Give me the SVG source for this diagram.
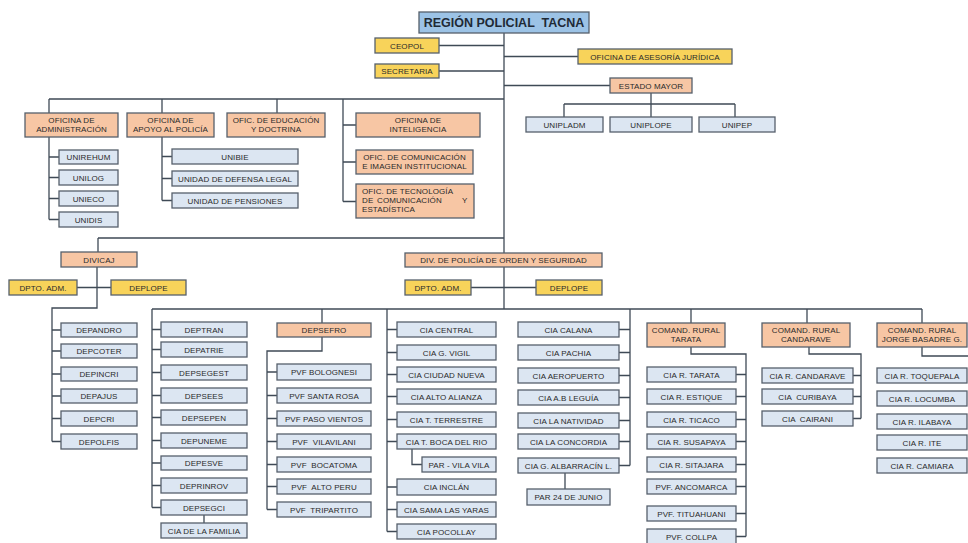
<svg xmlns="http://www.w3.org/2000/svg" width="968" height="543" viewBox="0 0 968 543">
<style>
.t,.y,.o,.b{stroke:#56606c;stroke-width:1.3}
.t{fill:#9cc3e6}
.y{fill:#f8d35a}
.o{fill:#f7c6a4}
.b{fill:#dce6f2}
text{font-family:"Liberation Sans",Arial,sans-serif;font-size:8px;fill:#2a2a2a;text-anchor:middle;letter-spacing:0.1px}
.tt{font-size:12.5px;font-weight:bold;fill:#1f2a36;letter-spacing:0}
.l{text-anchor:start}
#connectors path{fill:none;stroke:#3f4a56;stroke-width:1.3}
</style>
<rect x="0" y="0" width="968" height="543" fill="#ffffff"/>
<g id="connectors">
<path d="M504 33V309"/>
<path d="M439 45.5H504M439 71H504M504 56.5H578M504 85.5H610"/>
<path d="M651 93V104M564 104H735M564 104V117M651 104V117M735 104V117"/>
<path d="M49 99H504M49 99V113M162 99V113M277 99V113M343 99V201.5M343 125H356M343 162H356M343 201.5H356"/>
<path d="M49 137V219.5M49 157H59M49 177.5H59M49 198.5H59M49 219.5H59"/>
<path d="M162 137V200.5M162 156.5H172M162 178.5H172M162 200.5H172"/>
<path d="M98 238H504M98 238V252"/>
<path d="M97 267V308H52V441.5M77 287.5H111"/>
<path d="M52 330H61M52 351H61M52 374H61M52 396H61M52 418.5H61M52 441.5H61"/>
<path d="M471 287.5H536"/>
<path d="M152 309H922"/>
<path d="M152 309V507.5M152 329.5H161M152 349.5H161M152 372.5H161M152 395.5H161M152 417.5H161M152 440.5H161M152 463H161M152 485.5H161M152 507.5H161M204 515V523"/>
<path d="M322 309V323M322 337V351H267V509.5M267 372H277M267 395.5H277M267 418.5H277M267 441.5H277M267 464.5H277M267 486.5H277M267 509.5H277"/>
<path d="M387 309V531.5M387 329.5H397M387 352.5H397M387 374.5H397M387 396.5H397M387 419.5H397M387 441.5H397M387 487H397M387 509.5H397M387 531.5H397M412 449V464.5H422"/>
<path d="M630 309V465.5M619 329.5H630M619 352.5H630M619 375.5H630M619 397.5H630M619 420.5H630M619 441.5H630M619 465.5H630M565 473V489"/>
<path d="M691 309V323M691 347V354H746V536.5M736 374.5H746M736 396.5H746M736 419.5H746M736 441.5H746M736 464.5H746M736 486.5H746M736 513.5H746M736 536.5H746"/>
<path d="M807 309V323M809 347V354H861V418.5M853 375.5H861M853 396.5H861M853 418.5H861"/>
<path d="M922 309V323M922 347V356H968"/>
</g>

<g id="region"><rect class="t" x="419" y="12" width="170" height="21"/><text class="tt" x="504" y="27" xml:space="preserve">REGIÓN POLICIAL  TACNA</text></g>
<g id="ceopol"><rect class="y" x="375" y="38" width="64" height="15"/><text x="407" y="48.5">CEOPOL</text></g>
<g id="secretaria"><rect class="y" x="375" y="64" width="64" height="14"/><text x="407" y="74">SECRETARIA</text></g>
<g id="asesoria"><rect class="y" x="578" y="49" width="154" height="15"/><text x="655" y="59.5">OFICINA DE ASESORÍA JURÍDICA</text></g>
<g id="estado-mayor"><rect class="o" x="610" y="78" width="82" height="15"/><text x="651" y="88.5">ESTADO MAYOR</text></g>
<g id="unipladm"><rect class="b" x="526" y="117" width="77" height="15"/><text x="564.5" y="127.5">UNIPLADM</text></g>
<g id="uniplope"><rect class="b" x="610" y="117" width="82" height="15"/><text x="651" y="127.5">UNIPLOPE</text></g>
<g id="unipep"><rect class="b" x="699" y="117" width="76" height="15"/><text x="737" y="127.5">UNIPEP</text></g>

<g id="of-admin"><rect class="o" x="25" y="113" width="93" height="24"/><text x="71.5" y="123">OFICINA DE</text><text x="71.5" y="132">ADMINISTRACIÓN</text></g>
<g id="of-apoyo"><rect class="o" x="127" y="113" width="87" height="24"/><text x="170.5" y="123">OFICINA DE</text><text x="170.5" y="132">APOYO AL POLICÍA</text></g>
<g id="of-educacion"><rect class="o" x="227" y="113" width="98" height="24"/><text x="276" y="123">OFIC. DE EDUCACIÓN</text><text x="276" y="132">Y DOCTRINA</text></g>
<g id="of-inteligencia"><rect class="o" x="356" y="113" width="124" height="24"/><text x="418" y="123">OFICINA DE</text><text x="418" y="132">INTELIGENCIA</text></g>
<g id="of-comunicacion"><rect class="o" x="356" y="150" width="117" height="24"/><text x="414.5" y="160">OFIC. DE COMUNICACIÓN</text><text x="414.5" y="169">E IMAGEN INSTITUCIONAL</text></g>
<g id="of-tecnologia"><rect class="o" x="356" y="184" width="118" height="34"/><text class="l" x="362" y="194">OFIC. DE TECNOLOGÍA</text><text class="l" x="362" y="203">DE</text><text class="l" x="377" y="203">COMUNICACIÓN</text><text class="l" x="462" y="203">Y</text><text class="l" x="362" y="212">ESTADÍSTICA</text></g>

<g id="unirehum"><rect class="b" x="59" y="150" width="59" height="14"/><text x="88.5" y="160">UNIREHUM</text></g>
<g id="unilog"><rect class="b" x="59" y="170" width="59" height="15"/><text x="88.5" y="180.5">UNILOG</text></g>
<g id="unieco"><rect class="b" x="59" y="191" width="59" height="15"/><text x="88.5" y="201.5">UNIECO</text></g>
<g id="unidis"><rect class="b" x="59" y="212" width="59" height="15"/><text x="88.5" y="222.5">UNIDIS</text></g>
<g id="unibie"><rect class="b" x="172" y="149" width="126" height="15"/><text x="235" y="159.5">UNIBIE</text></g>
<g id="defensa-legal"><rect class="b" x="172" y="171" width="126" height="15"/><text x="235" y="181.5">UNIDAD DE DEFENSA LEGAL</text></g>
<g id="pensiones"><rect class="b" x="172" y="193" width="126" height="15"/><text x="235" y="203.5">UNIDAD DE PENSIONES</text></g>

<g id="divicaj"><rect class="o" x="61" y="252" width="76" height="15"/><text x="99" y="262.5">DIVICAJ</text></g>
<g id="dpto-adm-1"><rect class="y" x="9" y="280" width="68" height="15"/><text x="43" y="290.5">DPTO. ADM.</text></g>
<g id="deplope-1"><rect class="y" x="111" y="280" width="75" height="15"/><text x="148.5" y="290.5">DEPLOPE</text></g>
<g id="depandro"><rect class="b" x="61" y="323" width="76" height="14"/><text x="99" y="333">DEPANDRO</text></g>
<g id="depcoter"><rect class="b" x="61" y="344" width="76" height="14"/><text x="99" y="354">DEPCOTER</text></g>
<g id="depincri"><rect class="b" x="61" y="367" width="76" height="14"/><text x="99" y="377">DEPINCRI</text></g>
<g id="depajus"><rect class="b" x="61" y="389" width="76" height="14"/><text x="99" y="399">DEPAJUS</text></g>
<g id="depcri"><rect class="b" x="61" y="411" width="76" height="15"/><text x="99" y="421.5">DEPCRI</text></g>
<g id="depolfis"><rect class="b" x="61" y="434" width="76" height="15"/><text x="99" y="444.5">DEPOLFIS</text></g>

<g id="div-orden"><rect class="o" x="405" y="253" width="197" height="14"/><text x="503.5" y="263">DIV. DE POLICÍA DE ORDEN Y SEGURIDAD</text></g>
<g id="dpto-adm-2"><rect class="y" x="405" y="280" width="66" height="15"/><text x="438" y="290.5">DPTO. ADM.</text></g>
<g id="deplope-2"><rect class="y" x="536" y="280" width="66" height="15"/><text x="569" y="290.5">DEPLOPE</text></g>

<g id="deptran"><rect class="b" x="161" y="322" width="86" height="15"/><text x="204" y="332.5">DEPTRAN</text></g>
<g id="depatrie"><rect class="b" x="161" y="342" width="86" height="15"/><text x="204" y="352.5">DEPATRIE</text></g>
<g id="depsegest"><rect class="b" x="161" y="365" width="86" height="15"/><text x="204" y="375.5">DEPSEGEST</text></g>
<g id="depsees"><rect class="b" x="161" y="388" width="86" height="15"/><text x="204" y="398.5">DEPSEES</text></g>
<g id="depsepen"><rect class="b" x="161" y="410" width="86" height="15"/><text x="204" y="420.5">DEPSEPEN</text></g>
<g id="depuneme"><rect class="b" x="161" y="433" width="86" height="15"/><text x="204" y="443.5">DEPUNEME</text></g>
<g id="depesve"><rect class="b" x="161" y="456" width="86" height="14"/><text x="204" y="466">DEPESVE</text></g>
<g id="deprinrov"><rect class="b" x="161" y="478" width="86" height="15"/><text x="204" y="488.5">DEPRINROV</text></g>
<g id="depsegci"><rect class="b" x="161" y="500" width="86" height="15"/><text x="204" y="510.5">DEPSEGCI</text></g>
<g id="cia-familia"><rect class="b" x="161" y="523" width="86" height="15"/><text x="204" y="533.5">CIA DE LA FAMILIA</text></g>

<g id="depsefro"><rect class="o" x="277" y="323" width="94" height="14"/><text x="324" y="333">DEPSEFRO</text></g>
<g id="pvf-bolognesi"><rect class="b" x="277" y="364" width="94" height="16"/><text x="324" y="375">PVF BOLOGNESI</text></g>
<g id="pvf-santa-rosa"><rect class="b" x="277" y="388" width="94" height="15"/><text x="324" y="398.5">PVF SANTA ROSA</text></g>
<g id="pvf-paso-vientos"><rect class="b" x="277" y="411" width="94" height="15"/><text x="324" y="421.5">PVF PASO VIENTOS</text></g>
<g id="pvf-vilavilani"><rect class="b" x="277" y="434" width="94" height="15"/><text x="324" y="444.5" xml:space="preserve">PVF  VILAVILANI</text></g>
<g id="pvf-bocatoma"><rect class="b" x="277" y="457" width="94" height="15"/><text x="324" y="467.5" xml:space="preserve">PVF  BOCATOMA</text></g>
<g id="pvf-alto-peru"><rect class="b" x="277" y="479" width="94" height="15"/><text x="324" y="489.5" xml:space="preserve">PVF  ALTO PERU</text></g>
<g id="pvf-tripartito"><rect class="b" x="277" y="502" width="94" height="15"/><text x="324" y="512.5" xml:space="preserve">PVF  TRIPARTITO</text></g>

<g id="cia-central"><rect class="b" x="397" y="322" width="99" height="15"/><text x="446.5" y="332.5">CIA CENTRAL</text></g>
<g id="cia-g-vigil"><rect class="b" x="397" y="345" width="99" height="15"/><text x="446.5" y="355.5">CIA G. VIGIL</text></g>
<g id="cia-ciudad-nueva"><rect class="b" x="397" y="367" width="99" height="15"/><text x="446.5" y="377.5">CIA CIUDAD NUEVA</text></g>
<g id="cia-alto-alianza"><rect class="b" x="397" y="389" width="99" height="15"/><text x="446.5" y="399.5">CIA ALTO ALIANZA</text></g>
<g id="cia-t-terrestre"><rect class="b" x="397" y="412" width="99" height="15"/><text x="446.5" y="422.5">CIA T. TERRESTRE</text></g>
<g id="cia-boca-del-rio"><rect class="b" x="397" y="434" width="99" height="15"/><text x="446.5" y="444.5">CIA T. BOCA DEL RIO</text></g>
<g id="par-vila-vila"><rect class="b" x="422" y="457" width="74" height="15"/><text x="459" y="467.5">PAR - VILA VILA</text></g>
<g id="cia-inclan"><rect class="b" x="397" y="479" width="99" height="16"/><text x="446.5" y="490">CIA INCLÁN</text></g>
<g id="cia-sama"><rect class="b" x="397" y="502" width="99" height="15"/><text x="446.5" y="512.5">CIA SAMA LAS YARAS</text></g>
<g id="cia-pocollay"><rect class="b" x="397" y="524" width="99" height="15"/><text x="446.5" y="534.5">CIA POCOLLAY</text></g>

<g id="cia-calana"><rect class="b" x="518" y="322" width="101" height="15"/><text x="568.5" y="332.5">CIA CALANA</text></g>
<g id="cia-pachia"><rect class="b" x="518" y="345" width="101" height="15"/><text x="568.5" y="355.5">CIA PACHIA</text></g>
<g id="cia-aeropuerto"><rect class="b" x="518" y="368" width="101" height="15"/><text x="568.5" y="378.5">CIA AEROPUERTO</text></g>
<g id="cia-leguia"><rect class="b" x="518" y="390" width="101" height="15"/><text x="568.5" y="400.5">CIA A.B LEGUÍA</text></g>
<g id="cia-natividad"><rect class="b" x="518" y="413" width="101" height="15"/><text x="568.5" y="423.5">CIA LA NATIVIDAD</text></g>
<g id="cia-concordia"><rect class="b" x="518" y="434" width="101" height="15"/><text x="568.5" y="444.5">CIA LA CONCORDIA</text></g>
<g id="cia-albarracin"><rect class="b" x="518" y="458" width="101" height="15"/><text x="568.5" y="468.5">CIA G. ALBARRACÍN L.</text></g>
<g id="par-24-junio"><rect class="b" x="527" y="489" width="83" height="16"/><text x="568.5" y="500">PAR 24 DE JUNIO</text></g>

<g id="rural-tarata"><rect class="o" x="647" y="323" width="78" height="24"/><text x="686" y="333">COMAND. RURAL</text><text x="686" y="342">TARATA</text></g>
<g id="cia-r-tarata"><rect class="b" x="647" y="367" width="89" height="15"/><text x="691.5" y="377.5">CIA R. TARATA</text></g>
<g id="cia-r-estique"><rect class="b" x="647" y="389" width="89" height="15"/><text x="691.5" y="399.5">CIA R. ESTIQUE</text></g>
<g id="cia-r-ticaco"><rect class="b" x="647" y="412" width="89" height="15"/><text x="691.5" y="422.5">CIA R. TICACO</text></g>
<g id="cia-r-susapaya"><rect class="b" x="647" y="434" width="89" height="15"/><text x="691.5" y="444.5">CIA R. SUSAPAYA</text></g>
<g id="cia-r-sitajara"><rect class="b" x="647" y="457" width="89" height="15"/><text x="691.5" y="467.5">CIA R. SITAJARA</text></g>
<g id="pvf-ancomarca"><rect class="b" x="647" y="479" width="89" height="15"/><text x="691.5" y="489.5">PVF. ANCOMARCA</text></g>
<g id="pvf-tituahuani"><rect class="b" x="647" y="506" width="89" height="15"/><text x="691.5" y="516.5">PVF. TITUAHUANI</text></g>
<g id="pvf-collpa"><rect class="b" x="647" y="529" width="89" height="15"/><text x="691.5" y="539.5">PVF. COLLPA</text></g>

<g id="rural-candarave"><rect class="o" x="762" y="323" width="88" height="24"/><text x="806" y="333">COMAND. RURAL</text><text x="806" y="342">CANDARAVE</text></g>
<g id="cia-r-candarave"><rect class="b" x="762" y="368" width="91" height="15"/><text x="807.5" y="378.5">CIA R. CANDARAVE</text></g>
<g id="cia-curibaya"><rect class="b" x="762" y="389" width="91" height="15"/><text x="807.5" y="399.5" xml:space="preserve">CIA  CURIBAYA</text></g>
<g id="cia-cairani"><rect class="b" x="762" y="411" width="91" height="15"/><text x="807.5" y="421.5" xml:space="preserve">CIA  CAIRANI</text></g>

<g id="rural-basadre"><rect class="o" x="877" y="323" width="90" height="24"/><text x="922" y="333">COMAND. RURAL</text><text x="922" y="342">JORGE BASADRE G.</text></g>
<g id="cia-r-toquepala"><rect class="b" x="877" y="368" width="90" height="15"/><text x="922" y="378.5">CIA R. TOQUEPALA</text></g>
<g id="cia-r-locumba"><rect class="b" x="877" y="391" width="90" height="15"/><text x="922" y="401.5">CIA R. LOCUMBA</text></g>
<g id="cia-r-ilabaya"><rect class="b" x="877" y="414" width="90" height="15"/><text x="922" y="424.5">CIA R. ILABAYA</text></g>
<g id="cia-r-ite"><rect class="b" x="877" y="435" width="90" height="15"/><text x="922" y="445.5">CIA R. ITE</text></g>
<g id="cia-r-camiara"><rect class="b" x="877" y="458" width="90" height="15"/><text x="922" y="468.5">CIA R. CAMIARA</text></g>
</svg>
